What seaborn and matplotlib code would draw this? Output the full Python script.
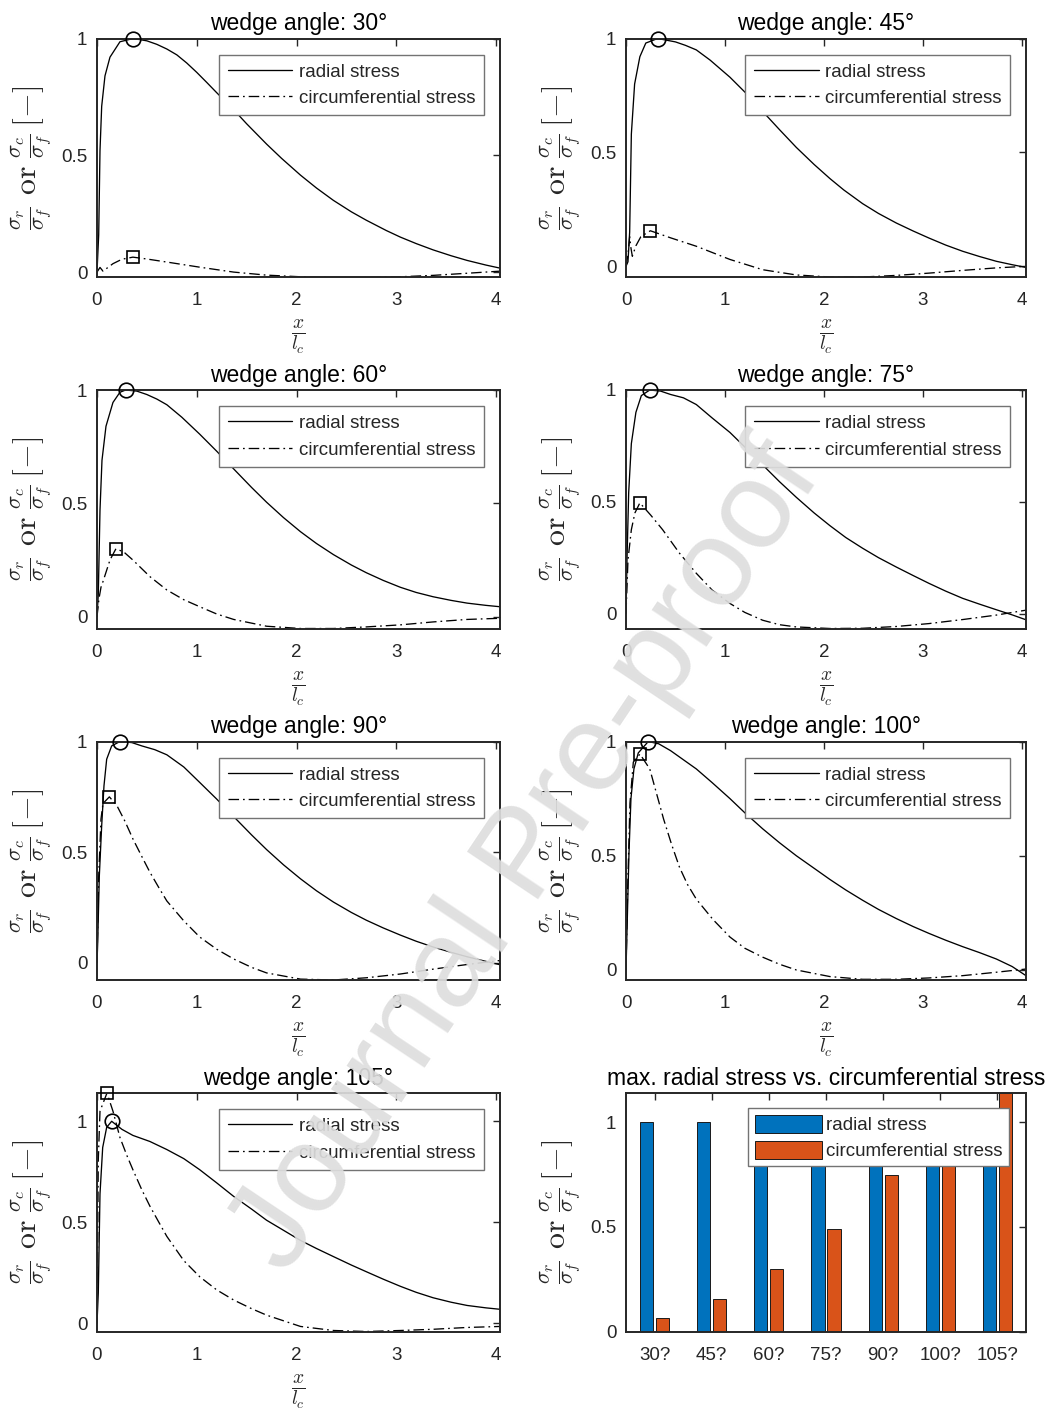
import numpy as np
import pandas as pd
import matplotlib
matplotlib.use("Agg")
import matplotlib.pyplot as plt
import seaborn as sns

# ---------------- data ----------------
angles = [30, 45, 60, 75, 90, 100, 105]

x30_r = [0, 0.017, 0.03, 0.047, 0.08, 0.13, 0.23, 0.364, 0.5, 0.6, 0.7, 0.8, 0.9, 1.0, 1.1, 1.2, 1.37, 1.5, 1.7, 1.85, 2.04, 2.2, 2.37, 2.55, 2.7, 2.9, 3.04, 3.2, 3.37, 3.55, 3.71, 3.9, 4.04]
r30 = [0, 0.16, 0.52, 0.71, 0.84, 0.92, 0.986, 1.0, 0.99, 0.975, 0.955, 0.93, 0.895, 0.855, 0.812, 0.768, 0.695, 0.635, 0.548, 0.487, 0.415, 0.36, 0.307, 0.258, 0.222, 0.178, 0.15, 0.122, 0.095, 0.07, 0.05, 0.03, 0.017]
x30_c = [0, 0.03, 0.06, 0.16, 0.25, 0.36, 0.5, 0.7, 1.03, 1.37, 1.7, 2.04, 2.37, 2.7, 3.04, 3.37, 3.71, 4.04]
c30 = [0, 0.02, 0.004, 0.036, 0.055, 0.064, 0.056, 0.043, 0.021, 0.0, -0.013, -0.02, -0.023, -0.023, -0.02, -0.014, -0.005, 0.004]

x45_r = [0, 0.02, 0.037, 0.054, 0.087, 0.14, 0.2, 0.32, 0.5, 0.6, 0.71, 0.85, 1.05, 1.2, 1.38, 1.55, 1.72, 1.9, 2.06, 2.2, 2.39, 2.55, 2.73, 2.9, 3.06, 3.23, 3.4, 3.57, 3.74, 3.9, 4.04]
r45 = [0, 0.02, 0.15, 0.58, 0.80, 0.92, 0.98, 1.0, 0.985, 0.97, 0.95, 0.905, 0.83, 0.765, 0.68, 0.6, 0.522, 0.447, 0.385, 0.335, 0.275, 0.232, 0.19, 0.155, 0.124, 0.093, 0.066, 0.043, 0.022, 0.007, -0.005]
x45_c = [0, 0.02, 0.037, 0.05, 0.064, 0.1, 0.15, 0.246, 0.45, 0.71, 1.05, 1.38, 1.72, 2.06, 2.39, 2.73, 3.06, 3.4, 3.74, 4.04]
c45 = [0, 0.05, 0.13, 0.08, 0.044, 0.09, 0.13, 0.156, 0.125, 0.088, 0.03, -0.015, -0.038, -0.047, -0.047, -0.04, -0.03, -0.018, -0.007, 0.0]

x60_r = [0, 0.013, 0.03, 0.05, 0.09, 0.16, 0.23, 0.287, 0.4, 0.5, 0.6, 0.7, 0.85, 1.03, 1.2, 1.37, 1.55, 1.7, 1.87, 2.04, 2.2, 2.37, 2.55, 2.7, 2.87, 3.04, 3.2, 3.37, 3.55, 3.71, 3.9, 4.04]
r60 = [0, 0.1, 0.47, 0.69, 0.84, 0.945, 0.99, 1.0, 0.995, 0.98, 0.96, 0.935, 0.88, 0.805, 0.73, 0.652, 0.57, 0.505, 0.437, 0.375, 0.323, 0.274, 0.228, 0.194, 0.16, 0.13, 0.107, 0.088, 0.072, 0.06, 0.05, 0.044]
x60_c = [0, 0.02, 0.04, 0.06, 0.13, 0.19, 0.27, 0.36, 0.53, 0.7, 0.87, 1.03, 1.2, 1.37, 1.7, 2.04, 2.37, 2.7, 3.04, 3.37, 3.71, 4.04]
c60 = [0, 0.08, 0.13, 0.155, 0.25, 0.30, 0.285, 0.25, 0.177, 0.118, 0.075, 0.044, 0.012, -0.012, -0.042, -0.052, -0.052, -0.045, -0.036, -0.023, -0.012, -0.007]

x75_r = [0, 0.01, 0.027, 0.054, 0.1, 0.155, 0.24, 0.35, 0.45, 0.58, 0.71, 0.87, 1.05, 1.2, 1.38, 1.55, 1.72, 1.9, 2.06, 2.22, 2.39, 2.55, 2.73, 2.9, 3.06, 3.23, 3.4, 3.57, 3.74, 3.9, 4.04]
r75 = [0, 0.24, 0.54, 0.76, 0.9, 0.975, 1.0, 0.995, 0.98, 0.965, 0.935, 0.875, 0.81, 0.745, 0.665, 0.59, 0.52, 0.45, 0.393, 0.34, 0.292, 0.25, 0.208, 0.17, 0.135, 0.1, 0.068, 0.042, 0.017, -0.006, -0.028]
x75_c = [0, 0.02, 0.054, 0.09, 0.14, 0.25, 0.37, 0.54, 0.71, 0.87, 1.05, 1.2, 1.38, 1.55, 1.72, 2.06, 2.39, 2.73, 3.06, 3.4, 3.74, 4.04]
c75 = [0, 0.24, 0.375, 0.45, 0.495, 0.44, 0.375, 0.27, 0.18, 0.105, 0.045, 0.005, -0.03, -0.05, -0.06, -0.067, -0.066, -0.058, -0.045, -0.027, -0.007, 0.015]

x90_r = [0, 0.007, 0.023, 0.047, 0.07, 0.097, 0.147, 0.23, 0.35, 0.45, 0.58, 0.7, 0.87, 1.03, 1.2, 1.37, 1.55, 1.7, 1.87, 2.04, 2.2, 2.37, 2.55, 2.7, 2.87, 3.04, 3.2, 3.37, 3.55, 3.71, 3.9, 4.04]
r90 = [0, 0.09, 0.39, 0.62, 0.8, 0.92, 0.98, 1.0, 0.995, 0.98, 0.963, 0.94, 0.885, 0.815, 0.74, 0.661, 0.578, 0.512, 0.443, 0.38, 0.326, 0.275, 0.228, 0.193, 0.158, 0.126, 0.098, 0.072, 0.048, 0.028, 0.007, -0.008]
x90_c = [0, 0.017, 0.04, 0.06, 0.124, 0.2, 0.28, 0.36, 0.45, 0.53, 0.62, 0.7, 0.87, 1.03, 1.2, 1.37, 1.55, 1.7, 2.04, 2.37, 2.7, 3.04, 3.37, 3.71, 4.04]
c90 = [0, 0.39, 0.65, 0.72, 0.75, 0.71, 0.64, 0.56, 0.48, 0.41, 0.34, 0.28, 0.19, 0.117, 0.062, 0.018, -0.02, -0.045, -0.073, -0.077, -0.067, -0.05, -0.028, -0.007, 0.011]

x100_r = [0, 0.013, 0.03, 0.05, 0.08, 0.124, 0.225, 0.33, 0.45, 0.58, 0.71, 0.87, 1.05, 1.2, 1.38, 1.55, 1.72, 1.9, 2.06, 2.22, 2.39, 2.55, 2.73, 2.9, 3.06, 3.23, 3.4, 3.57, 3.74, 3.9, 4.04]
r100 = [0, 0.22, 0.51, 0.75, 0.88, 0.95, 1.0, 0.99, 0.96, 0.92, 0.88, 0.82, 0.75, 0.688, 0.618, 0.557, 0.50, 0.445, 0.396, 0.35, 0.305, 0.265, 0.225, 0.19, 0.16, 0.13, 0.102, 0.076, 0.048, 0.015, -0.025]
x100_c = [0, 0.017, 0.04, 0.074, 0.141, 0.24, 0.31, 0.38, 0.46, 0.54, 0.62, 0.71, 0.88, 1.05, 1.2, 1.38, 1.55, 1.72, 2.06, 2.39, 2.73, 3.06, 3.4, 3.74, 4.04]
c100 = [0, 0.36, 0.73, 0.91, 0.945, 0.88, 0.77, 0.66, 0.55, 0.45, 0.375, 0.31, 0.22, 0.144, 0.095, 0.056, 0.025, 0.0, -0.029, -0.041, -0.041, -0.035, -0.025, -0.01, 0.004]

x105_r = [0, 0.013, 0.03, 0.057, 0.097, 0.147, 0.25, 0.36, 0.53, 0.7, 0.87, 1.03, 1.2, 1.37, 1.55, 1.7, 1.87, 2.04, 2.2, 2.37, 2.55, 2.7, 2.87, 3.04, 3.2, 3.37, 3.55, 3.71, 3.9, 4.04]
r105 = [0, 0.15, 0.64, 0.87, 0.97, 1.0, 0.96, 0.93, 0.9, 0.86, 0.815, 0.76, 0.695, 0.628, 0.565, 0.51, 0.46, 0.41, 0.37, 0.33, 0.288, 0.255, 0.218, 0.183, 0.153, 0.126, 0.104, 0.088, 0.076, 0.069]
x105_c = [0, 0.013, 0.03, 0.1, 0.16, 0.23, 0.3, 0.36, 0.45, 0.53, 0.62, 0.7, 0.87, 1.03, 1.2, 1.37, 1.55, 1.7, 2.04, 2.37, 2.7, 3.04, 3.37, 3.71, 4.04]
c105 = [0, 0.81, 1.05, 1.14, 1.05, 0.92, 0.83, 0.76, 0.66, 0.58, 0.5, 0.43, 0.31, 0.23, 0.165, 0.115, 0.072, 0.04, -0.016, -0.036, -0.041, -0.036, -0.03, -0.021, -0.016]

# location of the maxima (circle: radial, square: circumferential)
peak_r_x = [0.364, 0.32, 0.287, 0.24, 0.23, 0.225, 0.147]
peak_r_y = [1.0, 1.0, 1.0, 1.0, 1.0, 1.0, 1.0]
peak_c_x = [0.36, 0.246, 0.19, 0.14, 0.124, 0.141, 0.1]
peak_c_y = [0.064, 0.156, 0.30, 0.495, 0.75, 0.945, 1.14]

# axis lower/upper limits per panel
y_low = [-0.021, -0.047, -0.052, -0.067, -0.077, -0.044, -0.041]
y_high = [1.0, 1.0, 1.0, 1.0, 1.0, 1.0, 1.14]

# bar chart
bar_labels = ["30?", "45?", "60?", "75?", "90?", "100?", "105?"]
radial_max = [1.0, 1.0, 1.0, 1.0, 1.0, 1.0, 1.0]
circ_max = [0.064, 0.156, 0.30, 0.49, 0.75, 0.945, 1.14]

radial_x = [x30_r, x45_r, x60_r, x75_r, x90_r, x100_r, x105_r]
radial_y = [r30, r45, r60, r75, r90, r100, r105]
circ_x = [x30_c, x45_c, x60_c, x75_c, x90_c, x100_c, x105_c]
circ_y = [c30, c45, c60, c75, c90, c100, c105]

# ---------------- style ----------------
sns.set_style("white")
plt.rcParams["font.family"] = ["Liberation Sans", "DejaVu Sans"]
plt.rcParams["mathtext.fontset"] = "cm"

W, H = 1058, 1410
fig = plt.figure(figsize=(W / 100, H / 100), dpi=100)
fig.patch.set_facecolor("white")

AX_COL = "#262626"
TICK_FS = 13.5
LEG_FS = 13.5
TITLE_FS = 16.5
YLABEL = r"$\frac{\sigma_r}{\sigma_f}\ \mathrm{or}\ \frac{\sigma_c}{\sigma_f}\,[-]$"
XLABEL = r"$\frac{x}{l_c}$"
DASHDOT = (0, (8, 3, 1.3, 3))


def panel_rect(col, row):
    left = 97 if col == 0 else 626
    width = 403 if col == 0 else 400
    top = 38.5 + 351.5 * row
    height = 238.5
    return [left / W, 1 - (top + height) / H, width / W, height / H]


def style_axes(ax):
    for s in ax.spines.values():
        s.set_visible(True)
        s.set_color(AX_COL)
        s.set_linewidth(1.4)
    ax.tick_params(direction="in", top=True, right=True, length=5, width=1.0,
                   color=AX_COL, labelcolor=AX_COL, labelsize=TICK_FS, pad=7)
    ax.tick_params(axis="x", pad=11)


def make_legend(ax, anchor, **kw):
    leg = ax.legend(loc="upper right", bbox_to_anchor=anchor, borderaxespad=0,
                    fancybox=False, framealpha=1, edgecolor="0.45",
                    fontsize=LEG_FS, **kw)
    leg.get_frame().set_linewidth(1.0)
    return leg


for i, ang in enumerate(angles):
    col, row = i % 2, i // 2
    ax = fig.add_axes(panel_rect(col, row))
    sns.lineplot(x=radial_x[i], y=radial_y[i], ax=ax, color="black", lw=0.95,
                 label="radial stress", errorbar=None, sort=False)
    sns.lineplot(x=circ_x[i], y=circ_y[i], ax=ax, color="black", lw=0.95,
                 linestyle=DASHDOT, label="circumferential stress",
                 errorbar=None, sort=False)
    ax.plot([peak_r_x[i]], [peak_r_y[i]], marker="o", ms=10.5, mfc="none",
            mec="black", mew=1.2, ls="none", clip_on=False, zorder=5)
    ax.plot([peak_c_x[i]], [peak_c_y[i]], marker="s", ms=8, mfc="none",
            mec="black", mew=1.2, ls="none", clip_on=False, zorder=5)
    ax.set_xlim(0, 4.04)
    ax.set_ylim(y_low[i], y_high[i])
    ax.set_xticks([0, 1, 2, 3, 4])
    ax.set_xticklabels(["0", "1", "2", "3", "4"])
    ax.set_yticks([0, 0.5, 1])
    ax.set_yticklabels(["0", "0.5", "1"])
    style_axes(ax)
    ax.set_title(f"wedge angle: {ang}\u00b0", fontsize=TITLE_FS, pad=6, color="black")
    ax.set_xlabel(XLABEL, fontsize=20, labelpad=6)
    ax.set_ylabel(YLABEL, fontsize=23, labelpad=5)
    make_legend(ax, (0.96, 0.931), handlelength=3.45, handletextpad=0.35,
                labelspacing=0.5, borderpad=0.45)

# ---------------- bar chart ----------------
axb = fig.add_axes(panel_rect(1, 3))
df = pd.DataFrame({
    "angle": bar_labels * 2,
    "series": ["radial stress"] * len(bar_labels) + ["circumferential stress"] * len(bar_labels),
    "value": radial_max + circ_max,
})
sns.barplot(data=df, x="angle", y="value", hue="series", ax=axb,
            palette=["#0072BD", "#D95319"], saturation=1, width=0.56, gap=0.18,
            edgecolor="#1a1a1a", linewidth=0.7, errorbar=None)
axb.set_xlim(-0.5, 6.5)
axb.set_ylim(0, 1.14)
axb.set_yticks([0, 0.5, 1])
axb.set_yticklabels(["0", "0.5", "1"])
style_axes(axb)
axb.set_xlabel("")
axb.set_ylabel(YLABEL, fontsize=23, labelpad=5)
axb.set_title("max. radial stress vs. circumferential stress", fontsize=TITLE_FS,
              pad=6, color="black")
make_legend(axb, (0.9575, 0.937), handlelength=3.6, handleheight=1.1,
            handletextpad=0.2, labelspacing=0.35, borderpad=0.35)

# ---------------- watermark ----------------
fig.text(527 / W, 1 - 858 / H, "Journal Pre-proof", rotation=56.2, fontsize=90,
         color="#dedede", alpha=0.92, ha="center", va="center",
         rotation_mode="anchor", zorder=20)

fig.savefig("out.png", dpi=100, facecolor="white")
